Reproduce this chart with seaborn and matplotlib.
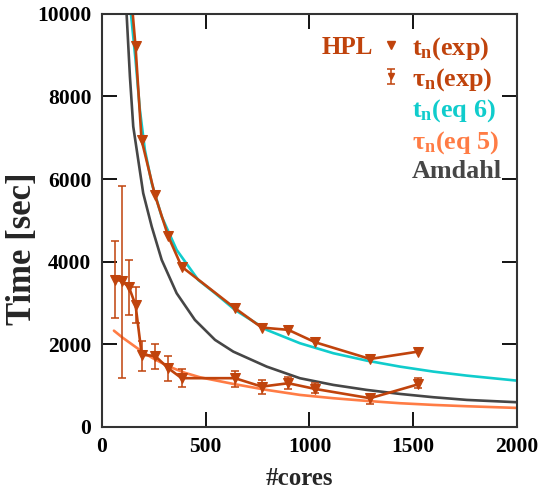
import matplotlib
matplotlib.use("Agg")
import matplotlib.pyplot as plt
from matplotlib.lines import Line2D
from matplotlib.container import ErrorbarContainer
from matplotlib.legend_handler import HandlerErrorbar
import numpy as np
import seaborn as sns
import pandas as pd

# ---------------- data ----------------
cores_t = [128, 162, 191, 255, 320, 384, 641, 770, 898, 1027, 1292, 1525]
t_exp = [11200, 9210, 6950, 5620, 4610, 3880, 2875, 2405, 2350, 2050, 1645, 1825]

cores_tau = [64, 96, 130, 162, 192, 256, 320, 384, 641, 770, 898, 1027, 1292, 1525]
tau_exp = [3560, 3535, 3385, 2955, 1745, 1720, 1420, 1180, 1180, 976, 1058, 920, 695, 1034]
tau_hi = [4490, 5840, 4045, 3385, 2085, 2010, 1725, 1400, 1365, 1140, 1220, 1060, 800, 1180]
tau_lo = [2635, 1180, 2710, 2510, 1365, 1400, 1120, 955, 970, 800, 915, 815, 555, 935]

cores_eq6 = [140, 162, 183, 207, 240, 288, 360, 464, 545, 641, 794, 954, 1115, 1276, 1436, 1597, 1758, 1999]
t_eq6 = [10000, 8886, 7675, 6707, 5900, 5092, 4286, 3559, 3237, 2833, 2349, 2026, 1784, 1605, 1460, 1339, 1242, 1121]

cores_eq5 = [58, 100, 150, 200, 250, 300, 344, 400, 472, 504, 633, 794, 954, 1115, 1276, 1436, 1597, 1758, 1999]
tau_eq5 = [2330, 2160, 1980, 1800, 1650, 1520, 1420, 1310, 1203, 1170, 1041, 896, 775, 695, 630, 574, 533, 501, 460]

cores_amd = [119, 135, 151, 175, 199, 240, 288, 360, 448, 545, 633, 794, 954, 1115, 1276, 1436, 1597, 1758, 1999]
t_amd = [10000, 8482, 7272, 6465, 5658, 4850, 4044, 3237, 2591, 2107, 1823, 1460, 1179, 1017, 896, 799, 719, 654, 598]

x_ticks = [0, 500, 1000, 1500, 2000]
y_ticks = [0, 2000, 4000, 6000, 8000, 10000]

# ---------------- style ----------------
sns.set_style("ticks")
plt.rcParams["font.family"] = ["Liberation Serif", "DejaVu Serif"]
plt.rcParams["font.weight"] = "bold"
plt.rcParams["mathtext.fontset"] = "custom"
plt.rcParams["mathtext.bf"] = "Liberation Serif:bold"
plt.rcParams["mathtext.rm"] = "Liberation Serif:bold"
plt.rcParams["mathtext.it"] = "Liberation Serif:bold"
plt.rcParams["mathtext.default"] = "bf"

C_EXP = "#c0430c"
C_EQ6 = "#10cccc"
C_EQ5 = "#ff7c45"
C_AMD = "#464646"

fig = plt.figure(figsize=(5.42, 4.93), dpi=100)
ax = fig.add_axes([0.188, 0.134, 0.766, 0.838])

lw = 1.9
sns.lineplot(x=cores_eq6, y=t_eq6, ax=ax, color=C_EQ6, lw=lw, sort=False, estimator=None)
sns.lineplot(x=cores_amd, y=t_amd, ax=ax, color=C_AMD, lw=lw, sort=False, estimator=None)
sns.lineplot(x=cores_eq5, y=tau_eq5, ax=ax, color=C_EQ5, lw=lw, sort=False, estimator=None)

sns.lineplot(x=cores_t, y=t_exp, ax=ax, color=C_EXP, lw=lw, marker="v", markersize=6.5,
             markeredgecolor=C_EXP, sort=False, estimator=None)

df_tau = pd.DataFrame({"n": cores_tau, "tau": tau_exp, "hi": tau_hi, "lo": tau_lo})
yerr = [df_tau["tau"] - df_tau["lo"], df_tau["hi"] - df_tau["tau"]]
ax.errorbar(df_tau["n"], df_tau["tau"], yerr=yerr, fmt="none", ecolor=C_EXP,
            elinewidth=1.1, capsize=3.2, capthick=1.1)
sns.lineplot(data=df_tau, x="n", y="tau", ax=ax, color=C_EXP, lw=lw, marker="v", markersize=6.5,
             markeredgecolor=C_EXP, sort=False, estimator=None)

ax.set_xlim(0, 2000)
ax.set_ylim(0, 10000)
ax.set_xticks(x_ticks)
ax.set_yticks(y_ticks)
ax.tick_params(direction="in", length=11, width=1.3, top=True, right=True,
               labelsize=15.5, pad=7.5, colors="black")
for s in ax.spines.values():
    s.set_linewidth(1.5)
    s.set_color("#333333")
    s.set_visible(True)
ax.set_xlabel("#cores", fontsize=18, fontweight="bold")
ax.set_ylabel("Time [sec]", fontsize=25, fontweight="bold")
ax.xaxis.set_label_coords(0.475, -0.097)
ax.yaxis.set_label_coords(-0.152, 0.431)

# legend
h1 = Line2D([], [], color=C_EXP, marker="v", linestyle="none", markersize=5.5)
h2 = ax.errorbar([np.nan], [np.nan], yerr=[[1], [1]], fmt="v", color=C_EXP, ecolor=C_EXP,
                 markersize=5, elinewidth=1.1, capsize=3, capthick=1.1)
blank = Line2D([], [], linestyle="none")
handles = [h1, h2, blank, blank, blank]
labels = ["t$_n$(exp)", "τ$_n$(exp)", "t$_n$(eq 6)", "τ$_n$(eq 5)", "Amdahl"]
leg = ax.legend(handles, labels, loc="upper right", bbox_to_anchor=(1.004, 0.99), frameon=False,
                fontsize=18.8, handlelength=0.8, handletextpad=0.4, labelspacing=0.17,
                labelcolor=[C_EXP, C_EXP, C_EQ6, C_EQ5, C_AMD], borderaxespad=0.25,
                handler_map={ErrorbarContainer: HandlerErrorbar(yerr_size=0.27)})
ax.text(0.529, 0.918, "HPL", transform=ax.transAxes, color=C_EXP, fontsize=18,
        fontweight="bold", ha="left", va="center")

fig.savefig("out.png", dpi=100)
